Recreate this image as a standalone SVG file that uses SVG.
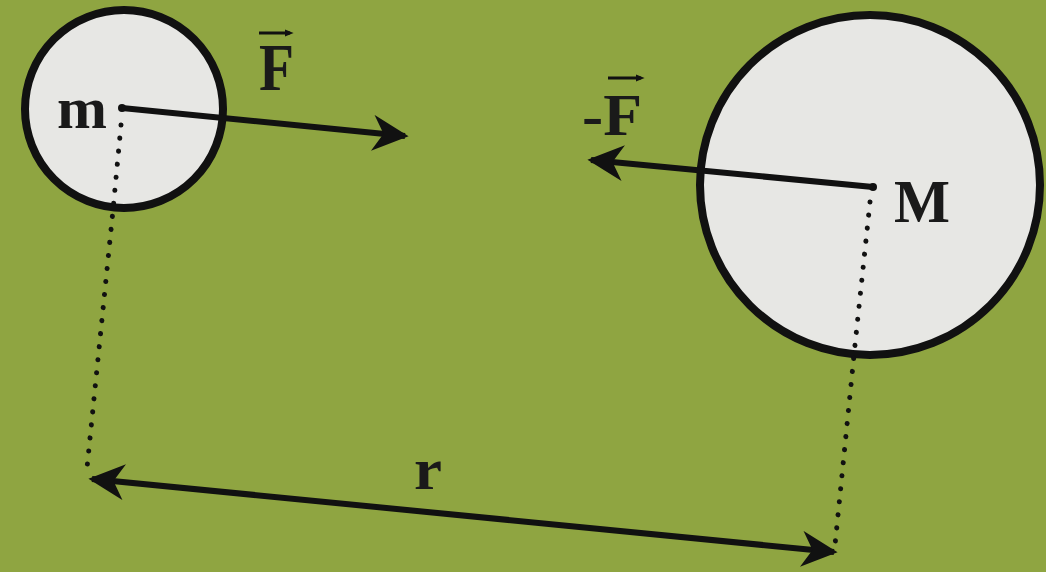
<svg xmlns="http://www.w3.org/2000/svg" width="1046" height="572" viewBox="0 0 1046 572">
<style>
.body{fill:#e7e7e4;stroke:#111;stroke-width:8}
.lbl{font-family:"Liberation Serif","DejaVu Serif",serif;font-weight:bold;fill:#1a1a1a}
.dots{fill:none;stroke:#111;stroke-width:5;stroke-linecap:round;stroke-dasharray:0.1 13}
.arr{fill:none;stroke:#111;stroke-width:6}
.vec{fill:none;stroke:#111;stroke-width:3}
</style>
<defs>
<marker id="ah" viewBox="0 0 10 10" refX="9" refY="5" markerWidth="7" markerHeight="6" markerUnits="strokeWidth" orient="auto-start-reverse">
<path d="M0,0 L10,5 L0,10 L3,5 Z" fill="#111"/>
</marker>
<marker id="vh" viewBox="0 0 10 10" refX="6" refY="5" markerWidth="3" markerHeight="3" markerUnits="strokeWidth" orient="auto">
<path d="M0,1 L10,5 L0,9 Z" fill="#111"/>
</marker>
</defs>
<rect width="1046" height="572" fill="#8fa541"/>
<g id="mass-m">
<circle class="body" cx="124" cy="109" r="99"/>
<circle cx="122" cy="108" r="4" fill="#111"/>
<text class="lbl" x="57" y="128" font-size="60" textLength="50" lengthAdjust="spacingAndGlyphs">m</text>
</g>
<g id="mass-M">
<circle class="body" cx="870" cy="185" r="170"/>
<circle cx="873" cy="187" r="4" fill="#111"/>
<text class="lbl" x="894" y="222" font-size="62" textLength="56" lengthAdjust="spacingAndGlyphs">M</text>
</g>
<g id="label-F">
<text class="lbl" x="259" y="90" font-size="68" textLength="35" lengthAdjust="spacingAndGlyphs">F</text>
<line class="vec" x1="259" y1="33" x2="290" y2="33" marker-end="url(#vh)"/>
</g>
<g id="label-negF">
<text class="lbl" x="582" y="135" font-size="60" textLength="60" lengthAdjust="spacingAndGlyphs">-F</text>
<line class="vec" x1="608" y1="78" x2="641" y2="78" marker-end="url(#vh)"/>
</g>
<g id="label-r">
<text class="lbl" x="414" y="489" font-size="60" textLength="28" lengthAdjust="spacingAndGlyphs">r</text>
</g>
<g id="connectors">
<line class="arr" x1="122" y1="108" x2="405" y2="136" marker-end="url(#ah)"/>
<line class="arr" x1="873" y1="187" x2="591" y2="160" marker-end="url(#ah)"/>
<line class="arr" x1="92" y1="479" x2="834" y2="552" marker-start="url(#ah)" marker-end="url(#ah)"/>
<polyline class="dots" points="121,125 113,210 87,468"/>
<polyline class="dots" points="870,202 855,345 835,545"/>
</g>
</svg>
